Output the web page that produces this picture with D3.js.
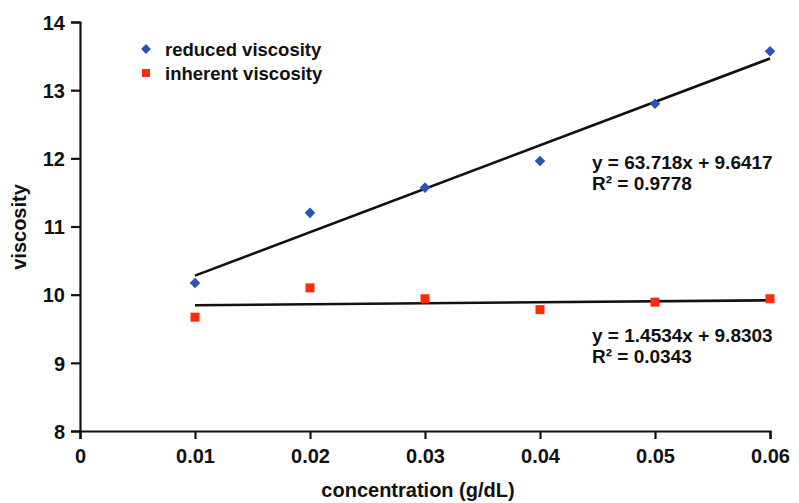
<!DOCTYPE html>
<html><head><meta charset="utf-8">
<script src="https://cdn.jsdelivr.net/npm/d3@7"></script>
<style>body{margin:0;background:#fff}svg{display:block}text{font-family:"Liberation Sans",Arial,sans-serif;font-weight:bold;fill:#111}</style>
</head><body><svg id="c" width="799" height="503"></svg>
<script>
const concentration = [0.01, 0.02, 0.03, 0.04, 0.05, 0.06];
const reducedViscosity = [10.17, 11.20, 11.57, 11.96, 12.80, 13.57];
const inherentViscosity = [9.67, 10.10, 9.94, 9.78, 9.89, 9.94];
const xTicks = [0, 0.01, 0.02, 0.03, 0.04, 0.05, 0.06];
const yTicks = [8, 9, 10, 11, 12, 13, 14];
const fitReduced = {slope: 63.718, intercept: 9.6417, label: "y = 63.718x + 9.6417", r2: "R² = 0.9778"};
const fitInherent = {slope: 1.4534, intercept: 9.8303, label: "y = 1.4534x + 9.8303", r2: "R² = 0.0343"};

const svg = d3.select("#c");
const x = d3.scaleLinear().domain([0, 0.06]).range([80, 770]);
const y = d3.scaleLinear().domain([8, 14]).range([431, 22]);

const xAxis = svg.append("g").attr("transform", "translate(0,431)")
  .call(d3.axisBottom(x).tickValues(xTicks).tickFormat(d => d === 0 ? "0" : d3.format(".2f")(d)).tickSizeOuter(0).tickSize(8).tickPadding(10));
const yAxis = svg.append("g").attr("transform", "translate(80,0)")
  .call(d3.axisLeft(y).tickValues(yTicks).tickFormat(d3.format("d")).tickSizeOuter(0).tickSize(9).tickPadding(6));
[xAxis, yAxis].forEach(g => {
  g.selectAll("path.domain").attr("stroke", "#111").attr("stroke-width", 2.2);
  g.selectAll(".tick line").attr("stroke", "#111").attr("stroke-width", 2.2);
  g.selectAll(".tick text").attr("fill", "#111").style("font-size", "20px").style("font-weight", "bold").style("font-family", "'Liberation Sans',Arial,sans-serif");
});
yAxis.selectAll(".tick text").attr("dy", "0.36em");
xAxis.selectAll(".tick text").attr("dy", "0.72em");

svg.append("text").attr("x", 418).attr("y", 497).attr("text-anchor", "middle").style("font-size", "20px").text("concentration (g/dL)");
svg.append("text").attr("transform", "translate(26,227) rotate(-90)").attr("text-anchor", "middle").style("font-size", "20px").text("viscosity");

const line = d3.line().x(d => x(d[0])).y(d => y(d[1]));
[fitReduced, fitInherent].forEach(f => {
  const pts = [concentration[0], concentration[concentration.length - 1]].map(c => [c, f.slope * c + f.intercept]);
  svg.append("path").attr("d", line(pts)).attr("stroke", "#111").attr("stroke-width", 2.6).attr("fill", "none");
});

const blue = "#2b52b5", red = "#ff2a0a";
svg.append("g").selectAll("path").data(concentration).join("path")
  .attr("transform", (d, i) => `translate(${x(d)},${y(reducedViscosity[i])}) rotate(45)`)
  .attr("d", d3.symbol().type(d3.symbolSquare).size(56)).attr("fill", blue);
svg.append("g").selectAll("rect").data(concentration).join("rect")
  .attr("x", d => x(d) - 4.5).attr("y", (d, i) => y(inherentViscosity[i]) - 4.5)
  .attr("width", 9).attr("height", 9).attr("fill", red);

// legend
svg.append("path").attr("transform", "translate(146,49) rotate(45)").attr("d", d3.symbol().type(d3.symbolSquare).size(48)).attr("fill", blue);
svg.append("rect").attr("x", 142).attr("y", 69).attr("width", 8).attr("height", 8).attr("fill", red);
svg.append("text").attr("x", 165).attr("y", 55.5).style("font-size", "18.5px").text("reduced viscosity");
svg.append("text").attr("x", 165).attr("y", 79.5).style("font-size", "18.5px").text("inherent viscosity");

// equations
svg.append("text").attr("x", 592).attr("y", 169).style("font-size", "19px").text(fitReduced.label);
svg.append("text").attr("x", 592).attr("y", 190).style("font-size", "19px").text(fitReduced.r2);
svg.append("text").attr("x", 592).attr("y", 342).style("font-size", "19px").text(fitInherent.label);
svg.append("text").attr("x", 592).attr("y", 363).style("font-size", "19px").text(fitInherent.r2);
</script></body></html>
